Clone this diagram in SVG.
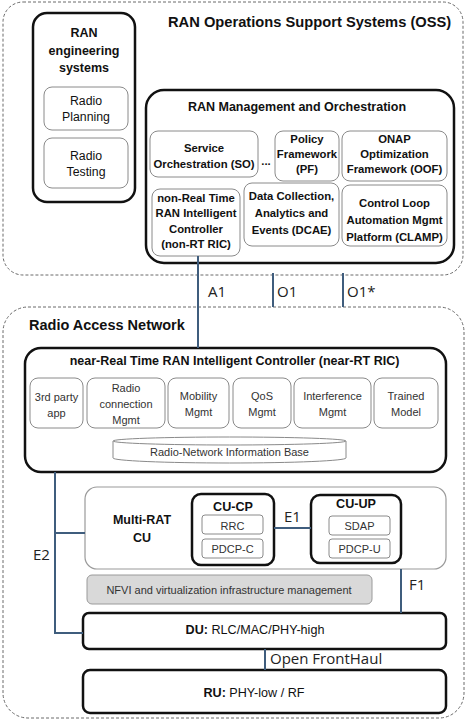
<svg xmlns="http://www.w3.org/2000/svg" width="469" height="722" viewBox="0 0 469 722">
<style>
text{font-family:"Liberation Sans",Arial,sans-serif;fill:#111}
.b{font-weight:bold}
.c{text-anchor:middle}
.dash{fill:#fff;stroke:#6a6a6a;stroke-width:1;stroke-dasharray:3 2}
.thick{fill:#fff;stroke:#111;stroke-width:2.5}
.thin{fill:#fff;stroke:#8a8a8a;stroke-width:1}
.st{font-size:11.3px;font-weight:bold}
.rg{font-size:11px;fill:#333}
.lbl{font-family:"Open Sans",sans-serif;font-size:15px;fill:#222}
.conn{fill:none;stroke:#3f5d7d;stroke-width:2}
</style>
<rect width="469" height="722" fill="#fff"/>
<g id="oss">
<rect class="dash" x="3" y="2" width="460" height="273" rx="20"/>
<text class="b" x="168" y="27" font-size="14.7">RAN Operations Support Systems (OSS)</text>
</g>
<g id="ran">
<rect class="dash" x="3" y="307" width="461" height="411" rx="25"/>
<text class="b" x="29" y="330" font-size="14.5">Radio Access Network</text>
</g>
<g id="ran-eng">
<rect class="thick" x="33" y="13" width="102" height="189" rx="14"/>
<text class="b c" x="84" y="37" font-size="12.5">RAN</text>
<text class="b c" x="84" y="55" font-size="12.5">engineering</text>
<text class="b c" x="84" y="72" font-size="12.5">systems</text>
</g>
<g id="radio-planning">
<rect class="thin" x="44" y="87" width="84" height="43" rx="8"/>
<text class="c" x="86" y="105" font-size="12.3">Radio</text>
<text class="c" x="86" y="121" font-size="12.3">Planning</text>
</g>
<g id="radio-testing">
<rect class="thin" x="44" y="138" width="84" height="50" rx="8"/>
<text class="c" x="86" y="160" font-size="12.3">Radio</text>
<text class="c" x="86" y="176" font-size="12.3">Testing</text>
</g>
<g id="ran-mgmt">
<rect class="thick" x="146" y="90" width="308" height="173" rx="18"/>
<text class="b c" x="297" y="111" font-size="12.5">RAN Management and Orchestration</text>
</g>
<g id="so">
<rect class="thin" x="150" y="131" width="108" height="46" rx="8"/>
<text class="st c" x="204" y="152">Service</text>
<text class="st c" x="204" y="168">Orchestration (SO)</text>
<text class="st c" x="266" y="165">...</text>
</g>
<g id="pf">
<rect class="thin" x="275" y="131" width="64" height="50" rx="8"/>
<text class="st c" x="307" y="143">Policy</text>
<text class="st c" x="307" y="158">Framework</text>
<text class="st c" x="307" y="173">(PF)</text>
</g>
<g id="oof">
<rect class="thin" x="342" y="131" width="105" height="50" rx="8"/>
<text class="st c" x="394.5" y="143">ONAP</text>
<text class="st c" x="394.5" y="158">Optimization</text>
<text class="st c" x="394.5" y="173">Framework (OOF)</text>
</g>
<g id="non-rt-ric">
<rect class="thin" x="152" y="189" width="88" height="67" rx="8"/>
<text class="st c" x="196" y="202">non-Real Time</text>
<text class="st c" x="196" y="217">RAN Intelligent</text>
<text class="st c" x="196" y="233">Controller</text>
<text class="st c" x="196" y="248">(non-RT RIC)</text>
</g>
<g id="dcae">
<rect class="thin" x="244" y="183" width="95" height="63" rx="8"/>
<text class="st c" x="291.5" y="200">Data Collection,</text>
<text class="st c" x="291.5" y="217">Analytics and</text>
<text class="st c" x="291.5" y="234">Events (DCAE)</text>
</g>
<g id="clamp">
<rect class="thin" x="342" y="185" width="105" height="61" rx="8"/>
<text class="st c" x="394.5" y="207">Control Loop</text>
<text class="st c" x="394.5" y="224">Automation Mgmt</text>
<text class="st c" x="394.5" y="241">Platform (CLAMP)</text>
</g>
<g id="near-rt-ric">
<rect class="thick" x="25" y="348" width="421" height="124" rx="16"/>
<text class="b c" x="234.5" y="365" font-size="12.5">near-Real Time RAN Intelligent  Controller (near-RT RIC)</text>
</g>
<g id="third-party">
<rect class="thin" x="30" y="378" width="53" height="50" rx="8"/>
<text class="rg c" x="56.5" y="401">3rd party</text>
<text class="rg c" x="56.5" y="417">app</text>
</g>
<g id="radio-conn">
<rect class="thin" x="87" y="378" width="78" height="50" rx="8"/>
<text class="rg c" x="126" y="392">Radio</text>
<text class="rg c" x="126" y="408">connection</text>
<text class="rg c" x="126" y="424">Mgmt</text>
</g>
<g id="mobility">
<rect class="thin" x="168" y="378" width="61" height="50" rx="8"/>
<text class="rg c" x="198.5" y="400">Mobility</text>
<text class="rg c" x="198.5" y="416">Mgmt</text>
</g>
<g id="qos">
<rect class="thin" x="233" y="378" width="58" height="50" rx="8"/>
<text class="rg c" x="262" y="400">QoS</text>
<text class="rg c" x="262" y="416">Mgmt</text>
</g>
<g id="interference">
<rect class="thin" x="294" y="378" width="77" height="50" rx="8"/>
<text class="rg c" x="332.5" y="400">Interference</text>
<text class="rg c" x="332.5" y="416">Mgmt</text>
</g>
<g id="trained-model">
<rect class="thin" x="374" y="378" width="64" height="50" rx="8"/>
<text class="rg c" x="406" y="400">Trained</text>
<text class="rg c" x="406" y="416">Model</text>
</g>
<g id="rnib">
<path class="thin" d="M113,441 L113,458 A116.5,5 0 0 0 346,458 L346,441"/>
<ellipse class="thin" cx="229.5" cy="441" rx="116.5" ry="4"/>
<text class="rg c" x="229.5" y="456">Radio-Network Information Base</text>
</g>
<g id="multi-rat-cu">
<rect fill="#fff" stroke="#9a9a9a" stroke-width="1.2" x="85" y="487" width="361" height="82" rx="12"/>
<text class="b c" x="142" y="524" font-size="12.5">Multi-RAT</text>
<text class="b c" x="142" y="542" font-size="12.5">CU</text>
</g>
<g id="cu-cp">
<rect class="thick" x="192" y="494" width="82" height="71" rx="9"/>
<text class="b c" x="233" y="511" font-size="12.6">CU-CP</text>
<rect class="thin" x="202" y="515" width="61" height="19" rx="3"/>
<text class="rg c" x="232.5" y="529.5">RRC</text>
<rect class="thin" x="202" y="539" width="61" height="19" rx="3"/>
<text class="rg c" x="232.5" y="553">PDCP-C</text>
</g>
<g id="cu-up">
<rect class="thick" x="311" y="495" width="90" height="68" rx="9"/>
<text class="b c" x="356" y="508" font-size="12.6">CU-UP</text>
<rect class="thin" x="329" y="516" width="61" height="19" rx="3"/>
<text class="rg c" x="359.5" y="530">SDAP</text>
<rect class="thin" x="329" y="539" width="61" height="19" rx="3"/>
<text class="rg c" x="359.5" y="553">PDCP-U</text>
</g>
<g id="nfvi">
<rect fill="#d9d9d9" stroke="#9a9a9a" stroke-width="1" x="87" y="575" width="285" height="29" rx="5"/>
<text class="rg c" x="229" y="594">NFVI and virtualization infrastructure management</text>
</g>
<g id="du">
<rect class="thick" x="83" y="613" width="363" height="36" rx="6"/>
<text class="c" x="255" y="634" font-size="12.6"><tspan font-weight="bold">DU:</tspan> RLC/MAC/PHY-high</text>
</g>
<g id="ru">
<rect class="thick" x="83" y="670" width="363" height="43" rx="7"/>
<text class="c" x="254" y="697" font-size="12.6"><tspan font-weight="bold">RU:</tspan> PHY-low / RF</text>
</g>
<g id="connectors">
<path class="conn" d="M198,256 V348"/>
<path class="conn" d="M273,273 V307"/>
<path class="conn" d="M343,273 V307"/>
<path class="conn" d="M55,472 V633 H83"/>
<path class="conn" d="M55,533 H85"/>
<path class="conn" d="M274,528 H311"/>
<path class="conn" d="M401,569 V613"/>
<path class="conn" d="M265,649 V670"/>
<text class="lbl" x="208" y="297">A1</text>
<text class="lbl" x="277" y="297">O1</text>
<text class="lbl" x="347" y="297">O1*</text>
<text class="lbl" x="33" y="560">E2</text>
<text class="lbl" x="284" y="522" font-size="14">E1</text>
<text class="lbl" x="409" y="590">F1</text>
<text class="lbl" x="270" y="664" font-size="12.5">Open FrontHaul</text>
</g>
</svg>
